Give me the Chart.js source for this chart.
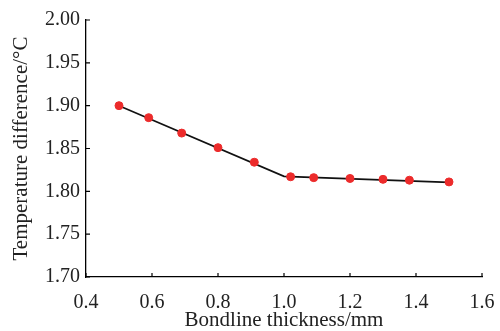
<!DOCTYPE html>
<html>
<head>
<meta charset="utf-8">
<script src="https://cdn.jsdelivr.net/npm/chart.js@4/dist/chart.umd.min.js"></script>
<style>
  html, body { margin: 0; padding: 0; background: #fff; }
  #wrap { width: 500px; height: 331px; }
</style>
</head>
<body>
<div id="wrap"><canvas id="c"></canvas></div>
<script>
// measured points (bondline thickness, temperature difference)
const thickness = [0.5, 0.59, 0.69, 0.8, 0.91, 1.02, 1.09, 1.2, 1.3, 1.38, 1.5];
const tempDiff  = [1.900, 1.886, 1.868, 1.851, 1.834, 1.817, 1.816, 1.815, 1.814, 1.813, 1.811];

// black trend line vertices
const trendX = [0.5, 1.0, 1.5];
const trendY = [1.900, 1.8175, 1.8105];

const FONT = "'Liberation Serif', 'Times New Roman', serif";

// short tick marks pointing into the plot
const innerTicks = {
  id: 'innerTicks',
  afterDraw(chart) {
    const ctx = chart.ctx;
    const x = chart.scales.x, y = chart.scales.y;
    ctx.save();
    ctx.strokeStyle = '#000';
    ctx.lineWidth = 1.2;
    ctx.beginPath();
    x.ticks.forEach(t => {
      const px = x.getPixelForValue(t.value);
      ctx.moveTo(px, y.bottom);
      ctx.lineTo(px, y.bottom - 4);
    });
    y.ticks.forEach(t => {
      const py = y.getPixelForValue(t.value);
      ctx.moveTo(x.left, py);
      ctx.lineTo(x.left + 4, py);
    });
    ctx.stroke();
    ctx.restore();
  }
};

new Chart(document.getElementById('c'), {
  type: 'scatter',
  data: {
    datasets: [
      {
        type: 'line',
        data: trendX.map((v, i) => ({ x: v, y: trendY[i] })),
        borderColor: '#111',
        borderWidth: 1.6,
        pointRadius: 0,
        fill: false,
        tension: 0,
        order: 2
      },
      {
        data: thickness.map((v, i) => ({ x: v, y: tempDiff[i] })),
        backgroundColor: '#ec2b2b',
        borderColor: '#ec2b2b',
        pointRadius: 4,
        order: 1
      }
    ]
  },
  options: {
    responsive: true,
    maintainAspectRatio: false,
    animation: false,
    layout: { padding: { left: 0, top: 20, right: 18, bottom: 0 } },
    plugins: { legend: { display: false }, tooltip: { enabled: false } },
    scales: {
      x: {
        type: 'linear',
        min: 0.4, max: 1.6,
        afterFit: s => { s.height = 54; },
        border: { display: true, color: '#000', width: 1.3 },
        grid: { display: false, tickLength: 10 },
        ticks: {
          stepSize: 0.2,
          maxRotation: 0,
          color: '#222',
          padding: 4,
          font: { family: FONT, size: 20 },
          callback: v => v.toFixed(1)
        },
        title: {
          display: true,
          text: 'Bondline thickness/mm',
          color: '#222',
          font: { family: FONT, size: 21, lineHeight: 1.0 },
          padding: { top: 0, bottom: 0 }
        }
      },
      y: {
        min: 1.70, max: 2.00,
        afterFit: s => { s.width = 86; },
        border: { display: true, color: '#000', width: 1.3 },
        grid: { display: false, drawTicks: false },
        ticks: {
          stepSize: 0.05,
          color: '#222',
          padding: 6,
          font: { family: FONT, size: 20 },
          callback: v => v.toFixed(2)
        },
        title: {
          display: true,
          text: 'Temperature difference/°C',
          color: '#222',
          font: { family: FONT, size: 21, lineHeight: 1.0 },
          padding: { top: 11, bottom: 0 }
        }
      }
    }
  },
  plugins: [innerTicks]
});
</script>
</body>
</html>
